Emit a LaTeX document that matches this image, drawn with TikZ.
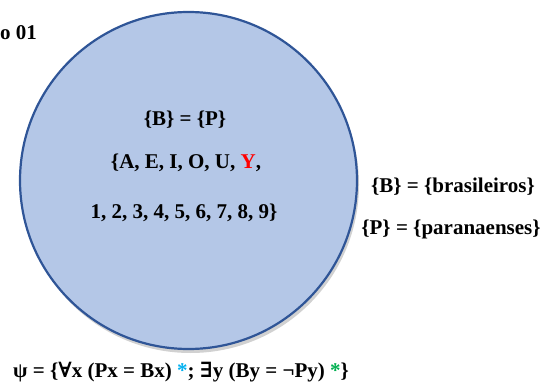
\documentclass[tikz,border=0pt]{standalone}
\usepackage{fontspec}
\setmainfont{Liberation Serif}
\newfontfamily\symfont{DejaVu Serif}
\usetikzlibrary{shadows}
\definecolor{circfill}{HTML}{B4C7E7}
\definecolor{circline}{HTML}{2F5597}
\definecolor{starblue}{HTML}{00B0F0}
\definecolor{stargreen}{HTML}{00B050}
\tikzset{
  lbl/.style={font=\fontsize{21}{24}\selectfont\bfseries, inner sep=0pt},
  setcircle/.style={circle, draw=circline, line width=2.2pt, fill=circfill, minimum size=337pt, inner sep=0pt,
    drop shadow={shadow xshift=2pt, shadow yshift=-4pt, opacity=0.3, fill=black!60}}
}
\begin{document}
\begin{tikzpicture}[x=1pt,y=-1pt]
\useasboundingbox (0,0) rectangle (543,390);
\node[setcircle] (c) at (188.5,180.5) {};
\node[lbl, anchor=west] (t) at (0,33) {o 01};
\node[lbl] (bp) at (185,120) {\{B\} = \{P\}};
\node[lbl] (vow) at (186,163) {\{A, E, I, O, U, \textcolor{red}{Y},};
\node[lbl] (num) at (184,213) {1, 2, 3, 4, 5, 6, 7, 8, 9\}};
\node[lbl] (bb) at (453,187) {\{B\} = \{brasileiros\}};
\node[lbl] (pp) at (451,229) {\{P\} = \{paranaenses\}};
\node[lbl] (psi) at (181,372) {ψ = \{{\symfont\bfseries ∀}x (Px = Bx) \textcolor{starblue}{*}; {\symfont\bfseries ∃}y (By = ¬Py) \textcolor{stargreen}{*}\}};
\end{tikzpicture}
\end{document}
